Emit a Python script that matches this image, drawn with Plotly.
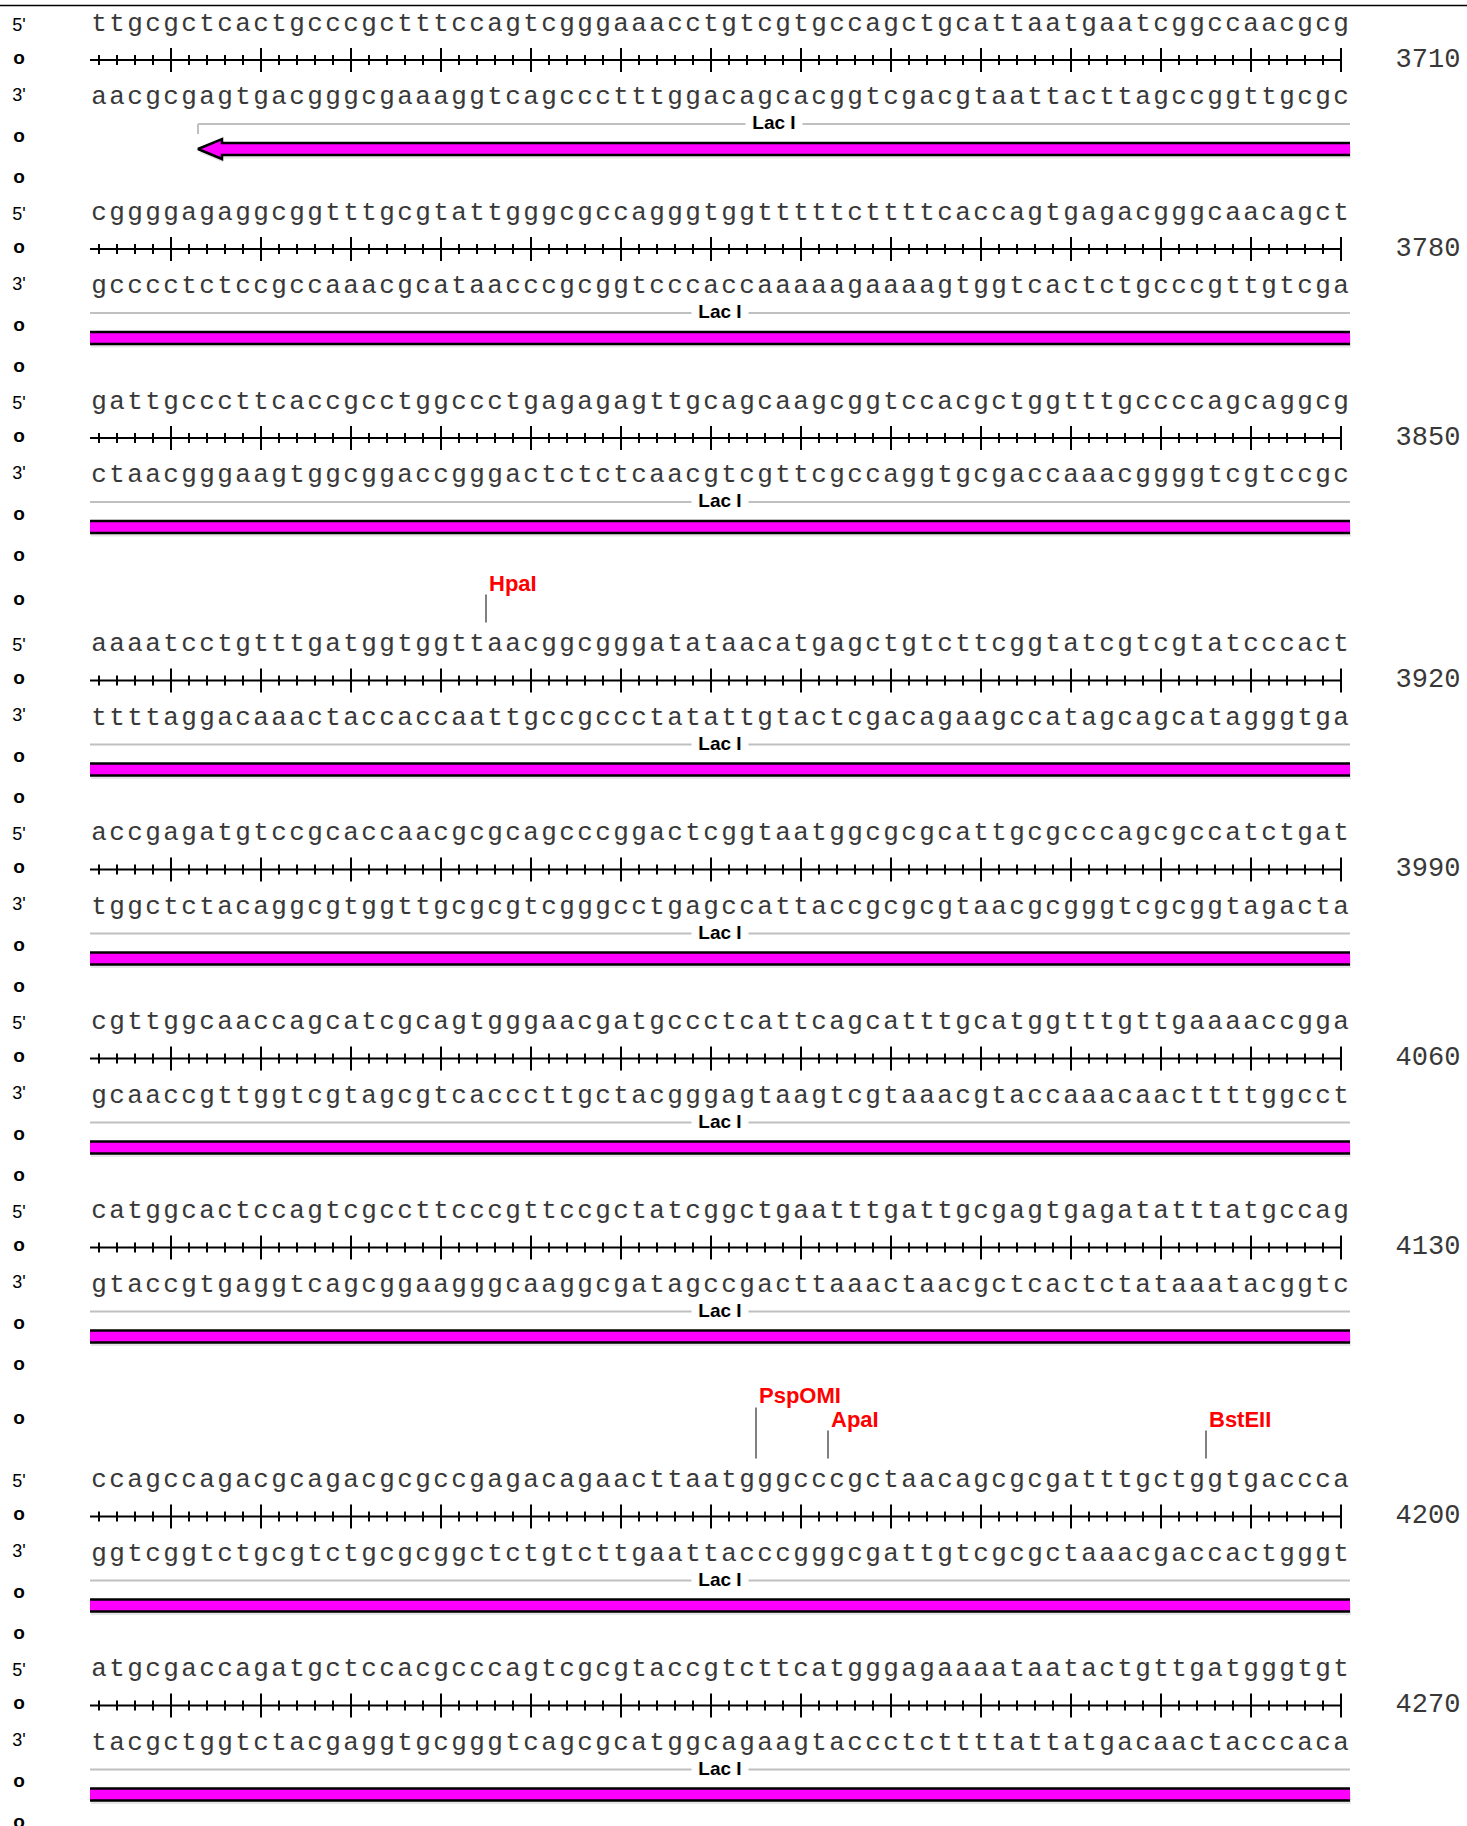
import plotly.graph_objects as go

W, H = 1467, 1826

# ---------------- data ----------------
sequences = [
    "ttgcgctcactgcccgctttccagtcgggaaacctgtcgtgccagctgcattaatgaatcggccaacgcg",
    "cggggagaggcggtttgcgtattgggcgccagggtggtttttcttttcaccagtgagacgggcaacagct",
    "gattgcccttcaccgcctggccctgagagagttgcagcaagcggtccacgctggtttgccccagcaggcg",
    "aaaatcctgtttgatggtggttaacggcgggatataacatgagctgtcttcggtatcgtcgtatcccact",
    "accgagatgtccgcaccaacgcgcagcccggactcggtaatggcgcgcattgcgcccagcgccatctgat",
    "cgttggcaaccagcatcgcagtgggaacgatgccctcattcagcatttgcatggtttgttgaaaaccgga",
    "catggcactccagtcgccttcccgttccgctatcggctgaatttgattgcgagtgagatatttatgccag",
    "ccagccagacgcagacgcgccgagacagaacttaatgggcccgctaacagcgcgatttgctggtgaccca",
    "atgcgaccagatgctccacgcccagtcgcgtaccgtcttcatgggagaaaataatactgttgatgggtgt",
]
row_end_numbers = ["3710", "3780", "3850", "3920", "3990", "4060", "4130", "4200", "4270"]

feature_name = "Lac I"
feature_start = [7, 1, 1, 1, 1, 1, 1, 1, 1]
feature_end = [70, 70, 70, 70, 70, 70, 70, 70, 70]
feature_head_row = 0          # row where the reverse arrow head is drawn

enzyme_names = ["HpaI", "PspOMI", "ApaI", "BstEII"]
enzyme_rows = [3, 7, 7, 7]
enzyme_cut_after = [22, 37, 41, 62]
enzyme_levels = [1, 2, 1, 1]

COMP = {"a": "t", "t": "a", "g": "c", "c": "g"}

# ---------------- layout helpers ----------------
PX = 18.0      # pixels per base
X0 = 99.0      # pixel of base 1


def kx(px):
    return 1 + (px - X0) / PX


def dk(px):
    return px / PX


n_rows = len(sequences)
row_levels = [max([lv for r, lv in zip(enzyme_rows, enzyme_levels) if r == i] or [0]) for i in range(n_rows)]
yS = []
y = 22.0
for i in range(n_rows):
    if i > 0:
        y += 189
        if row_levels[i]:
            y += 27 + 26.5 * row_levels[i]
    yS.append(y)

fig = go.Figure()

# top border
fig.add_trace(go.Scatter(x=[kx(0), kx(W)], y=[5.5, 5.5], mode="lines",
                         line=dict(color="black", width=1.5), hoverinfo="skip"))

# rulers
rx, ry, minx, miny, majx, majy = [], [], [], [], [], []
for i in range(n_rows):
    yr = yS[i] + 38
    rx += [0.5, len(sequences[i]), None]
    ry += [yr, yr, None]
    for k in range(1, len(sequences[i]) + 1):
        if k % 5 == 0:
            majx += [k, k, None]
            majy += [yr - 12, yr + 12, None]
        else:
            minx += [k, k, None]
            miny += [yr - 5, yr + 5, None]
for xs, ys in ((rx, ry), (minx, miny), (majx, majy)):
    fig.add_trace(go.Scatter(x=xs, y=ys, mode="lines",
                             line=dict(color="black", width=2), hoverinfo="skip"))

# sequences
tx, ty, tt, bx, by, bt = [], [], [], [], [], []
for i, s in enumerate(sequences):
    for k, ch in enumerate(s, start=1):
        tx.append(k); ty.append(yS[i] + 2); tt.append(ch)
        bx.append(k); by.append(yS[i] + 75.5); bt.append(COMP[ch])
seq_font = dict(family="Liberation Mono, Courier New, monospace", size=26, color="#383838")
fig.add_trace(go.Scatter(x=tx, y=ty, text=tt, mode="text", textposition="middle center",
                         textfont=seq_font, hoverinfo="skip"))
fig.add_trace(go.Scatter(x=bx, y=by, text=bt, mode="text", textposition="middle center",
                         textfont=seq_font, hoverinfo="skip"))

# left strand markers
sx, sy, st, ox_, oy_ = [], [], [], [], []
for i in range(n_rows):
    if row_levels[i]:
        ox_.append(kx(19)); oy_.append(yS[i] - 42 - 17 * (row_levels[i] - 1))
    for off, lab in ((4, "5'"), (37, "o"), (74, "3'"), (115, "o"), (156, "o")):
        if lab == "o":
            ox_.append(kx(19)); oy_.append(yS[i] + off)
        else:
            sx.append(kx(19)); sy.append(yS[i] + off); st.append(lab)
fig.add_trace(go.Scatter(x=sx, y=sy, text=st, mode="text", textposition="middle center",
                         textfont=dict(family="Liberation Sans, Arial", size=18, color="black"),
                         hoverinfo="skip"))
fig.add_trace(go.Scatter(x=ox_, y=oy_, text=["o"] * len(ox_), mode="text",
                         textposition="middle center",
                         textfont=dict(family="Liberation Sans, Arial", size=19, color="black",
                                       weight="bold"),
                         hoverinfo="skip"))

# position numbers
fig.add_trace(go.Scatter(x=[kx(1428)] * n_rows, y=[v + 38 for v in yS], text=row_end_numbers,
                         mode="text", textposition="middle center",
                         textfont=dict(family="Liberation Mono, Courier New, monospace", size=27,
                                       color="#383838"),
                         hoverinfo="skip"))

# feature annotation lines + labels
gx, gy, fx, fy = [], [], [], []
gap = dk(28.5)
for i in range(n_rows):
    xs = feature_start[i] - 0.5
    xe = feature_end[i] + 0.5
    yl = yS[i] + 102
    xc = (xs + xe) / 2
    gx += [xs, xc - gap, None, xc + gap, xe, None]
    gy += [yl, yl, None, yl, yl, None]
    if i == feature_head_row:
        gx += [xs, xs, None]
        gy += [yl, yl + 10, None]
    fx.append(xc); fy.append(yl + 0.5)
fig.add_trace(go.Scatter(x=gx, y=gy, mode="lines", line=dict(color="#c0c0c0", width=2),
                         hoverinfo="skip"))
fig.add_trace(go.Scatter(x=fx, y=fy, text=[feature_name] * n_rows, mode="text",
                         textposition="middle center",
                         textfont=dict(family="Liberation Sans, Arial", size=19, color="black",
                                       weight="bold"),
                         hoverinfo="skip"))

# feature bars
for i in range(n_rows):
    xs = feature_start[i] - 0.5
    xe = feature_end[i] + 0.5
    yc = yS[i] + 127
    top, bot = yc - 6, yc + 6
    if i == feature_head_row:
        hb = xs + dk(24)
        px_ = [xs, hb, hb, xe, xe, hb, hb, xs]
        py_ = [yc, yc - 10, top, top, bot, bot, yc + 10, yc]
        ox = [xe, hb, hb, xs, hb, hb, xe]
        oy = [top, top, yc - 10, yc, yc + 10, bot, bot]
    else:
        px_ = [xs, xe, xe, xs, xs]
        py_ = [top, top, bot, bot, top]
        ox = [xs, xe, None, xs, xe]
        oy = [top, top, None, bot, bot]
    # soft shadow
    fig.add_trace(go.Scatter(x=[v + dk(1) for v in px_], y=[v + 3.5 for v in py_], mode="lines",
                             fill="toself", fillcolor="#e6e6e6", line=dict(width=0),
                             hoverinfo="skip"))
    fig.add_trace(go.Scatter(x=px_, y=py_, mode="lines", fill="toself", fillcolor="#ff00ff",
                             line=dict(width=0), hoverinfo="skip"))
    fig.add_trace(go.Scatter(x=ox, y=oy, mode="lines", line=dict(color="black", width=2.5),
                             hoverinfo="skip"))

# restriction enzymes
ex, ey, etx, ety, etl = [], [], [], [], []
for name, r, c, lv in zip(enzyme_names, enzyme_rows, enzyme_cut_after, enzyme_levels):
    xc = c + 0.5
    ys = yS[r]
    ytop = ys - 48 - 23 * (lv - 1)
    ex += [xc, xc, None]
    ey += [ytop, ys - 20, None]
    etx.append(xc + dk(3)); ety.append(ys - 57 - 24 * (lv - 1)); etl.append(name)
fig.add_trace(go.Scatter(x=ex, y=ey, mode="lines", line=dict(color="#808080", width=2),
                         hoverinfo="skip"))
fig.add_trace(go.Scatter(x=etx, y=ety, text=etl, mode="text", textposition="middle right",
                         textfont=dict(family="Liberation Sans, Arial", size=22, color="#ff0000",
                                       weight="bold"),
                         hoverinfo="skip"))

fig.update_layout(
    width=W, height=H, margin=dict(l=0, r=0, t=0, b=0),
    paper_bgcolor="white", plot_bgcolor="white", showlegend=False,
    xaxis=dict(range=[kx(0), kx(W)], visible=False, fixedrange=True),
    yaxis=dict(range=[H, 0], visible=False, fixedrange=True),
)

fig.write_html("out.html", config={"displayModeBar": False},
               post_script="document.body.style.margin='0';document.body.style.overflow='hidden';")
